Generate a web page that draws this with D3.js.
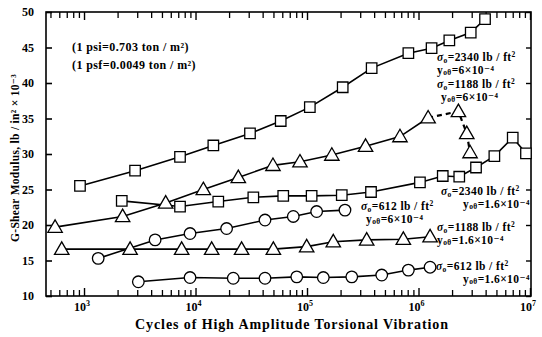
<!DOCTYPE html>
<html>
<head>
<meta charset="utf-8">
<script src="https://cdn.jsdelivr.net/npm/d3@7"></script>
<style>
  html, body { margin: 0; padding: 0; background: #fff; }
  svg { display: block; }
  text { font-family: "Liberation Serif", "DejaVu Serif", serif; fill: #000; }
</style>
</head>
<body>
<script>
// ---------- data ----------
const yTicks = [10, 15, 20, 25, 30, 35, 40, 45, 50];
const yTickLabels = ["10", "15", "20", "25", "30", "35", "40", "45", "50"];
const xTickValues = [1e3, 1e4, 1e5, 1e6, 1e7];
const xTickExponents = ["3", "4", "5", "6", "7"];

// sigma0 = 2340 lb/ft2, gamma = 6e-4 (squares)
const s1Cycles = [920, 2870, 7260, 14450, 30800, 58100, 106000, 209000, 380000, 811000, 1310000, 1890000, 2940000, 3950000];
const s1Modulus = [25.5, 27.65, 29.6, 31.2, 32.9, 34.65, 36.6, 39.4, 42.1, 44.2, 44.9, 46.0, 47.1, 49.0];

// sigma0 = 1188 lb/ft2, gamma = 6e-4 (triangles)
const s2Cycles = [550, 2220, 5400, 11750, 24200, 49500, 86500, 167000, 335000, 682000, 1220000, 2280000, 2710000, 2900000];
const s2Modulus = [19.7, 21.2, 23.1, 25.0, 26.7, 28.4, 28.9, 29.85, 31.1, 32.45, 35.1, 36.0, 32.9, 30.2];

// sigma0 = 2340 lb/ft2, gamma = 1.6e-4 (squares)
const s3Cycles = [2180, 7260, 16000, 33000, 61200, 110000, 205000, 375000, 1030000, 1650000, 2320000, 3280000, 4790000, 7000000, 9200000];
const s3Modulus = [23.4, 22.6, 23.3, 23.9, 24.1, 24.1, 24.2, 24.65, 26.0, 26.9, 26.8, 28.1, 29.7, 32.3, 30.1];

// sigma0 = 612 lb/ft2, gamma = 6e-4 (circles)
const s4Cycles = [1340, 4340, 8930, 19000, 42000, 75300, 122000, 219000];
const s4Modulus = [15.3, 17.9, 18.8, 19.5, 20.7, 21.2, 21.9, 22.1];

// sigma0 = 1188 lb/ft2, gamma = 1.6e-4 (triangles)
const s5Cycles = [631, 2590, 7510, 13960, 25900, 49900, 99300, 172000, 343000, 731000, 1270000];
const s5Modulus = [16.6, 16.6, 16.6, 16.6, 16.6, 16.6, 16.95, 17.65, 17.9, 18.0, 18.35];

// sigma0 = 612 lb/ft2, gamma = 1.6e-4 (circles)
const s6Cycles = [3070, 8930, 21800, 42000, 80900, 140000, 252000, 468000, 811000, 1270000];
const s6Modulus = [12.0, 12.6, 12.5, 12.5, 12.7, 12.6, 12.7, 12.95, 13.65, 14.05];

const seriesLabels = [
  ["2340", "6×10⁻⁴"],
  ["1188", "6×10⁻⁴"],
  ["2340", "1.6×10⁻⁴"],
  ["612", "6×10⁻⁴"],
  ["1188", "1.6×10⁻⁴"],
  ["612", "1.6×10⁻⁴"]
];
const noteLines = ["(1 psi=0.703 ton / m²)", "(1 psf=0.0049 ton / m²)"];
const xTitle = "Cycles of High Amplitude Torsional Vibration";
const yTitle = "G-Shear Modulus, lb / in² × 10⁻³";

// ---------- layout ----------
const W = 542, H = 337;
const L = 46, R = 531, T = 12, B = 296;

const svg = d3.select("body").append("svg").attr("width", W).attr("height", H);

const x = d3.scaleLog().domain([456, 1e7]).range([L, 530]);
const y = d3.scaleLinear().domain([10, 50]).range([B, T]);

// frame
svg.append("rect").attr("x", L).attr("y", T).attr("width", R - L).attr("height", B - T)
  .attr("fill", "none").attr("stroke", "#000").attr("stroke-width", 1.6);

// minor x tick values
const minorX = [];
for (let e = 2; e <= 6; e++) {
  for (let m = 2; m <= 9; m++) {
    const v = m * Math.pow(10, e);
    if (v >= 460 && v <= 1e7) minorX.push(v);
  }
}

function tickGroup(axis, tx, ty, sw) {
  const g = svg.append("g").attr("transform", `translate(${tx},${ty})`).call(axis);
  g.select(".domain").remove();
  g.selectAll("line").attr("stroke-width", sw);
  return g;
}
// bottom / top ticks (inward)
tickGroup(d3.axisBottom(x).tickValues(xTickValues).tickSizeInner(-8).tickSizeOuter(0).tickFormat(""), 0, B, 1.4);
tickGroup(d3.axisBottom(x).tickValues(minorX).tickSizeInner(-6).tickSizeOuter(0).tickFormat(""), 0, B, 1.3);
tickGroup(d3.axisTop(x).tickValues(xTickValues).tickSizeInner(-8).tickSizeOuter(0).tickFormat(""), 0, T, 1.4);
tickGroup(d3.axisTop(x).tickValues(minorX).tickSizeInner(-6).tickSizeOuter(0).tickFormat(""), 0, T, 1.3);

// x tick labels with superscript
const xl = svg.append("g");
xTickValues.forEach((v, i) => {
  const t = xl.append("text").attr("x", x(v) - 2).attr("y", B + 15)
    .attr("text-anchor", "middle").attr("font-size", 12).attr("font-weight", "bold");
  t.append("tspan").text("10");
  t.append("tspan").attr("font-size", 8).attr("dy", -5).text(xTickExponents[i]);
});

// left axis
const gl = tickGroup(d3.axisLeft(y).tickValues(yTicks).tickSizeInner(-6).tickSizeOuter(0)
  .tickFormat((d, i) => yTickLabels[i]).tickPadding(12), L, 0, 1.6);
gl.selectAll("text").attr("font-size", 12).attr("font-weight", "bold")
  .style("font-family", '"Liberation Serif", serif');

// right axis ticks
tickGroup(d3.axisRight(y).tickValues(yTicks).tickSizeInner(-5).tickSizeOuter(0).tickFormat(""), R, 0, 1.4);

// axis titles
svg.append("text").attr("x", 292).attr("y", 329).attr("text-anchor", "middle")
  .attr("font-size", 14).attr("letter-spacing", 0.9).attr("font-weight", "bold").text(xTitle);
svg.append("text").attr("transform", `translate(19,${(T + B) / 2 + 4}) rotate(-90)`)
  .attr("text-anchor", "middle").attr("font-size", 11.5).attr("letter-spacing", 0.3)
  .attr("font-weight", "bold").text(yTitle);

// notes
noteLines.forEach((s, i) => {
  svg.append("text").attr("x", 72).attr("y", 51 + i * 18).attr("font-size", 12)
    .attr("letter-spacing", 0.4).attr("font-weight", "bold").text(s);
});

// ---------- series ----------
const series = [
  { cx: s1Cycles, my: s1Modulus, shape: "square" },
  { cx: s2Cycles, my: s2Modulus, shape: "triangle", dashFrom: 10 },
  { cx: s3Cycles, my: s3Modulus, shape: "square" },
  { cx: s4Cycles, my: s4Modulus, shape: "circle" },
  { cx: s5Cycles, my: s5Modulus, shape: "triangle" },
  { cx: s6Cycles, my: s6Modulus, shape: "circle" }
];

const lineGen = d3.line().x(d => x(d[0])).y(d => y(d[1]));
const gLines = svg.append("g");
const gMarks = svg.append("g");

series.forEach(s => {
  const pts = s.cx.map((c, i) => [c, s.my[i]]);
  const cut = s.dashFrom !== undefined ? s.dashFrom : pts.length - 1;
  gLines.append("path").datum(pts.slice(0, cut + 1)).attr("d", lineGen)
    .attr("fill", "none").attr("stroke", "#000").attr("stroke-width", 1.6);
  if (s.dashFrom !== undefined) {
    gLines.append("path").datum(pts.slice(cut)).attr("d", lineGen)
      .attr("fill", "none").attr("stroke", "#000").attr("stroke-width", 2.2)
      .attr("stroke-dasharray", "5,4");
  }
  const sym = s.shape === "square" ? d3.symbolSquare : s.shape === "triangle" ? d3.symbolTriangle : d3.symbolCircle;
  const size = s.shape === "square" ? 110 : s.shape === "triangle" ? 90 : 105;
  gMarks.selectAll(null).data(pts).enter().append("path")
    .attr("transform", d => `translate(${x(d[0])},${y(d[1]) + (s.shape === "triangle" ? 1 : 0)})`)
    .attr("d", d3.symbol().type(sym).size(size))
    .attr("fill", "#fff").attr("stroke", "#000").attr("stroke-width", 1.3);
});

// ---------- series annotations ----------
const labelPos = [
  [437, 61, 437, 74],
  [437, 88, 441, 101],
  [441, 195, 463, 208],
  [361, 210, 366, 223],
  [437, 231, 437, 244],
  [436, 270, 463, 283]
];
function sigmaLabel(g, px, py, val) {
  const t = g.append("text").attr("x", px).attr("y", py).attr("font-size", 11.5)
    .attr("letter-spacing", 0.4).attr("font-weight", "bold");
  t.append("tspan").attr("font-style", "italic").text("σ");
  t.append("tspan").attr("font-size", 7.5).attr("dy", 2).text("o");
  t.append("tspan").attr("dy", -2).text("=" + val + " lb / ft");
  t.append("tspan").attr("font-size", 7.5).attr("dy", -4).text("2");
}
function gammaLabel(g, px, py, val) {
  const t = g.append("text").attr("x", px).attr("y", py).attr("font-size", 11.5)
    .attr("letter-spacing", 0.4).attr("font-weight", "bold");
  t.append("tspan").text("y");
  t.append("tspan").attr("font-size", 7.5).attr("dy", 1).text("oθ");
  t.append("tspan").attr("dy", -1).text("=" + val);
}
const gLab = svg.append("g");
seriesLabels.forEach((lab, i) => {
  const p = labelPos[i];
  sigmaLabel(gLab, p[0], p[1], lab[0]);
  gammaLabel(gLab, p[2], p[3], lab[1]);
});
</script>
</body>
</html>
